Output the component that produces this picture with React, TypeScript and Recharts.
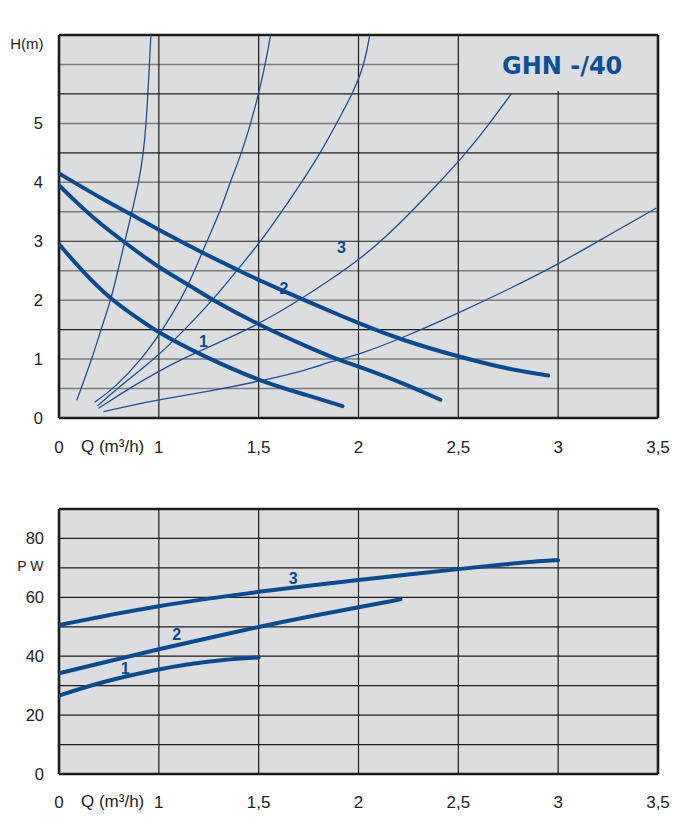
import React from 'react';
import { LineChart, Line, XAxis, YAxis, ReferenceLine, ReferenceArea, ReferenceDot } from 'recharts';

// ---------- axis ticks ----------
const qTicks = [0, 1, 1.5, 2, 2.5, 3, 3.5];
const qTickLabels = ['0', '1', '1,5', '2', '2,5', '3', '3,5'];
const hTicks = [0, 1, 2, 3, 4, 5];
const pTicks = [0, 20, 40, 60, 80];
const hGridValues = [0.5, 1, 1.5, 2, 2.5, 3, 3.5, 4, 4.5, 5, 5.5, 6];
const hGridDark = [1.5, 3, 4.5, 5.5];
const pGridValues = [10, 20, 30, 40, 50, 60, 70, 80];

// ---------- H–Q pump curves (speed 1..3): [Q m3/h, H m] ----------
const headSpeed1 = [[0, 2.95], [0.25, 2.46], [0.53, 2.0], [0.75, 1.74], [1.0, 1.44], [1.21, 1.07], [1.5, 0.63], [1.75, 0.38], [1.92, 0.2]];
const headSpeed2 = [[0, 3.95], [0.15, 3.7], [0.4, 3.31], [0.65, 2.99], [1.0, 2.55], [1.15, 2.26], [1.27, 2.0], [1.5, 1.58], [1.75, 1.2], [1.86, 1.04], [2.0, 0.875], [2.21, 0.61], [2.41, 0.31]];
const headSpeed3 = [[0, 4.15], [0.45, 3.7], [0.73, 3.45], [1.0, 3.19], [1.22, 2.8], [1.41, 2.49], [1.5, 2.34], [1.75, 1.97], [1.86, 1.81], [2.0, 1.61], [2.21, 1.33], [2.5, 1.04], [2.76, 0.82], [2.95, 0.72]];

// ---------- system curves (thin) ----------
const system1 = [[0.18, 0.31], [0.22, 0.5], [0.33, 1.0], [0.42, 1.5], [0.52, 2.0], [0.59, 2.5], [0.66, 3.0], [0.73, 3.5], [0.8, 4.0], [0.846, 4.5], [0.873, 5.0], [0.89, 5.5], [0.906, 6.0], [0.92, 6.5]];
const system2 = [[0.36, 0.27], [0.55, 0.5], [0.83, 1.0], [1.02, 1.5], [1.11, 2.0], [1.18, 2.5], [1.24, 3.0], [1.307, 3.5], [1.357, 4.0], [1.415, 4.5], [1.46, 5.0], [1.5, 5.5], [1.533, 6.0], [1.56, 6.5]];
const system3 = [[0.39, 0.21], [0.58, 0.5], [0.96, 1.0], [1.13, 1.5], [1.27, 2.0], [1.39, 2.5], [1.5, 2.95], [1.615, 3.5], [1.715, 4.0], [1.81, 4.5], [1.89, 5.0], [1.97, 5.5], [2.03, 6.0], [2.056, 6.5]];
const system4 = [[0.4, 0.17], [0.7, 0.5], [1.1, 1.0], [1.46, 1.5], [1.75, 2.1], [1.86, 2.35], [2.0, 2.68], [2.13, 3.05], [2.265, 3.5], [2.406, 4.0], [2.54, 4.5], [2.65, 4.97], [2.765, 5.5]];
const system5 = [[0.45, 0.11], [0.68, 0.2], [1.0, 0.31], [1.25, 0.45], [1.5, 0.62], [1.75, 0.82], [1.86, 0.96], [2.0, 1.07], [2.25, 1.4], [2.5, 1.78], [2.75, 2.18], [3.0, 2.61], [3.2, 3.0], [3.49, 3.56]];

// ---------- P–Q power curves: [Q m3/h, P W] ----------
const powerSpeed1 = [[0, 26.6], [0.41, 31.2], [1.0, 35.6], [1.13, 37.2], [1.33, 38.9], [1.5, 39.6]];
const powerSpeed2 = [[0, 34.2], [0.5, 38.3], [1.0, 42.4], [1.25, 46.2], [1.5, 50.0], [1.75, 53.5], [2.0, 56.6], [2.21, 59.3]];
const powerSpeed3 = [[0, 50.6], [0.5, 54.0], [1.0, 57.1], [1.25, 59.6], [1.5, 61.9], [1.75, 64.0], [2.0, 65.9], [2.25, 67.8], [2.5, 69.6], [2.75, 71.3], [2.91, 72.4], [3.0, 72.6]];

// ---------- annotations ----------
const headLabels = [{ text: '1', q: 1.224, v: 1.3 }, { text: '2', q: 1.627, v: 2.2 }, { text: '3', q: 1.915, v: 2.89 }];
const powerLabels = [{ text: '1', q: 0.663, v: 35.9 }, { text: '2', q: 1.09, v: 47.5 }, { text: '3', q: 1.673, v: 66.5 }];
const title = { text: 'GHN -/40', q: 3.02, v: 5.98 };

// The printed Q axis has 0..1 in the first division, then 0.5 per division.
const qToPos = (q: number) => (q <= 1 ? q : 1 + (q - 1) * 2);
const qTickPositions = qTicks.map(qToPos);
const toPoints = (arr: number[][]) => arr.map(([q, v]) => ({ x: qToPos(q), y: v }));

const FONT = '"Liberation Sans", Arial, Helvetica, sans-serif';
const BLUE = '#0c4a8f';
const THIN = '#1f4f97';
const BG = '#dcdddf';
const DARK = '#1c1c1c';
const GREY = '#7d7d7d';

const makeXTick = (off: number) => (props: any) => {
  const { x, y, payload } = props;
  const i = qTickPositions.findIndex((p) => Math.abs(p - payload.value) < 1e-6);
  return (
    <g>
      <text x={x} y={y + off} dy="0.35em" textAnchor="middle" fontSize={17} fill="#222" fontFamily={FONT}>
        {qTickLabels[i]}
      </text>
      {i === 0 && (
        <text x={x + 22} y={y + off - 1} dy="0.35em" textAnchor="start" fontSize={17} fill="#222" fontFamily={FONT}>
          Q (m³/h)
        </text>
      )}
    </g>
  );
};

const makeYTick = (off: number) => (props: any) => {
  const { x, y, payload } = props;
  return (
    <text x={x - off} y={y} dy="0.35em" textAnchor="end" fontSize={16.5} fill="#222" fontFamily={FONT}>
      {String(payload.value)}
    </text>
  );
};

const thick = { strokeWidth: 4, stroke: BLUE };
const thin = { strokeWidth: 1.3, stroke: THIN };

export default function App() {
  return (
    <div style={{ width: 679 }}>
      {/* ---------- H–Q chart ---------- */}
      <LineChart width={679} height={460} margin={{ top: 27, right: 29, bottom: 10, left: 6 }}>
        <XAxis dataKey="x" type="number" domain={[0, 6]} ticks={qTickPositions} interval={0} allowDataOverflow
          axisLine={false} tickLine={false} tickSize={0} tickMargin={0} height={40} tick={makeXTick(29)} />
        <YAxis type="number" domain={[0, 6.5]} ticks={hTicks} interval={0} allowDataOverflow
          axisLine={false} tickLine={false} tickSize={0} tickMargin={0} width={45} tick={makeYTick(16)} />
        <ReferenceArea x1={0} x2={6} y1={0} y2={6.5} fill={BG} fillOpacity={1} stroke="none" />
        {hGridValues.map((v) => (
          <ReferenceLine key={'h' + v}
            {...(v === 6 ? { segment: [{ x: 0, y: 6 }, { x: qToPos(2.5), y: 6 }] } : { y: v })}
            stroke={hGridDark.includes(v) ? DARK : GREY} strokeWidth={hGridDark.includes(v) ? 1.2 : 1.5} />
        ))}
        {qTickPositions.slice(1, -1).map((p) => (
          <ReferenceLine key={'v' + p}
            {...(p === qToPos(3) ? { segment: [{ x: p, y: 0 }, { x: p, y: 5.55 }] } : { x: p })}
            stroke={DARK} strokeWidth={1.2} />
        ))}
        <ReferenceLine x={0} stroke={DARK} strokeWidth={2.6} />
        <ReferenceLine x={6} stroke={DARK} strokeWidth={2.6} />
        <ReferenceLine y={0} stroke={DARK} strokeWidth={2.6} />
        <ReferenceLine y={6.5} stroke={DARK} strokeWidth={2.6} />

        {[system1, system2, system3, system4, system5].map((s, i) => (
          <Line key={'s' + i} data={toPoints(s)} dataKey="y" type="basis" dot={false} activeDot={false}
            isAnimationActive={false} strokeLinecap="round" {...thin} />
        ))}
        {[headSpeed1, headSpeed2, headSpeed3].map((s, i) => (
          <Line key={'hq' + i} data={toPoints(s)} dataKey="y" type="basis" dot={false} activeDot={false}
            isAnimationActive={false} strokeLinecap="round" {...thick} />
        ))}
        {headLabels.map((l) => (
          <ReferenceDot key={'hl' + l.text} x={qToPos(l.q)} y={l.v} r={0} fill="none" stroke="none"
            label={{ value: l.text, position: 'center', fill: BLUE, fontSize: 16, fontWeight: 700, fontFamily: FONT }} />
        ))}
        <ReferenceDot x={qToPos(title.q)} y={title.v} r={0} fill="none" stroke="none"
          label={{ value: title.text, position: 'center', fill: '#0b4f96', fontSize: 24, fontWeight: 700, fontFamily: '"DejaVu Sans", Verdana, sans-serif' }} />
        <text x={35.5} y={36} dy="0.35em" textAnchor="end" fontSize={15} fill="#222" fontFamily={FONT}>H(m)</text>
      </LineChart>

      {/* ---------- P–Q chart ---------- */}
      <LineChart width={679} height={350} margin={{ top: 41, right: 29, bottom: 4, left: 6 }}>
        <XAxis dataKey="x" type="number" domain={[0, 6]} ticks={qTickPositions} interval={0} allowDataOverflow
          axisLine={false} tickLine={false} tickSize={0} tickMargin={0} height={40} tick={makeXTick(28)} />
        <YAxis type="number" domain={[0, 90]} ticks={pTicks} interval={0} allowDataOverflow
          axisLine={false} tickLine={false} tickSize={0} tickMargin={0} width={45} tick={makeYTick(15)} />
        <ReferenceArea x1={0} x2={6} y1={0} y2={90} fill={BG} fillOpacity={1} stroke="none" />
        {pGridValues.map((v) => (
          <ReferenceLine key={'ph' + v} y={v} stroke={DARK} strokeWidth={1.2} />
        ))}
        {qTickPositions.slice(1, -1).map((p) => (
          <ReferenceLine key={'pv' + p} x={p} stroke={DARK} strokeWidth={1.2} />
        ))}
        <ReferenceLine x={0} stroke={DARK} strokeWidth={2.6} />
        <ReferenceLine x={6} stroke={DARK} strokeWidth={2.6} />
        <ReferenceLine y={0} stroke={DARK} strokeWidth={2.6} />
        <ReferenceLine y={90} stroke={DARK} strokeWidth={2.6} />

        {[powerSpeed1, powerSpeed2, powerSpeed3].map((s, i) => (
          <Line key={'pq' + i} data={toPoints(s)} dataKey="y" type="basis" dot={false} activeDot={false}
            isAnimationActive={false} strokeLinecap="round" {...thick} />
        ))}
        {powerLabels.map((l) => (
          <ReferenceDot key={'pl' + l.text} x={qToPos(l.q)} y={l.v} r={0} fill="none" stroke="none"
            label={{ value: l.text, position: 'center', fill: BLUE, fontSize: 16, fontWeight: 700, fontFamily: FONT }} />
        ))}
        <text x={35.5} y={98} dy="0.35em" textAnchor="end" fontSize={14} fill="#222" fontFamily={FONT}>P W</text>
      </LineChart>
    </div>
  );
}
